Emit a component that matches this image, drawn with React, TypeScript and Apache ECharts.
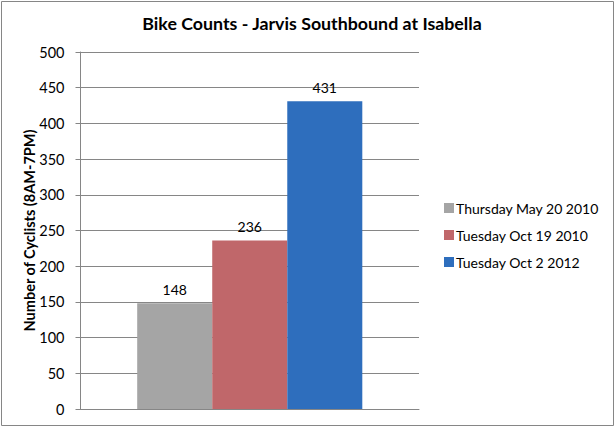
import React, { useEffect, useRef } from "react";
import * as echarts from "echarts";

const categories = [""];
const seriesNames = ["Thursday May 20 2010", "Tuesday Oct 19 2010", "Tuesday Oct 2 2012"];
const seriesValues = [148, 236, 431];
const seriesColors = ["#A5A5A5", "#C0676A", "#2E6EBD"];

export default function App() {
  const ref = useRef<HTMLDivElement>(null);
  useEffect(() => {
    document.body.style.margin = "0";
    const chart = echarts.init(ref.current!, null, { renderer: "svg" });
    const font = "Lato, 'Open Sans', sans-serif";
    chart.setOption({
      animation: false,
      backgroundColor: "#fff",
      textStyle: { fontFamily: font },
      title: {
        text: "Bike Counts - Jarvis Southbound at Isabella",
        left: 307,
        textAlign: "center",
        top: 9,
        textStyle: { fontSize: 17.8, fontWeight: "bold", color: "#000", fontFamily: font },
      },
      graphic: [
        {
          type: "rect",
          shape: { x: 1.5, y: 1.5, width: 612, height: 424 },
          style: { fill: "none", stroke: "#868686", lineWidth: 1 },
          silent: true,
        },
      ],
      legend: {
        orient: "vertical",
        left: 439,
        top: 196,
        itemWidth: 10,
        itemHeight: 10,
        itemGap: 13,
        icon: "rect",
        textStyle: { fontSize: 14, color: "#000", fontFamily: font, padding: [0, 0, 0, -3] },
        data: seriesNames,
      },
      grid: { left: 80.5, right: 197, top: 52, bottom: 19, containLabel: false },
      xAxis: {
        type: "category",
        data: categories,
        axisLine: { show: true, lineStyle: { color: "#868686" } },
        axisTick: { show: false },
        axisLabel: { show: false },
      },
      yAxis: {
        type: "value",
        min: 0,
        max: 500,
        interval: 50,
        name: "Number of Cyclists (8AM-7PM)",
        nameLocation: "middle",
        nameGap: 44,
        nameMoveOverlap: false,
        nameTextStyle: { fontSize: 14.5, fontWeight: "bold", color: "#000", fontFamily: font },
        axisLine: { show: true, lineStyle: { color: "#868686" } },
        axisTick: { show: true, length: 5, lineStyle: { color: "#868686" } },
        axisLabel: { fontSize: 14.5, color: "#000", margin: 16, fontFamily: font },
        splitLine: { show: true, lineStyle: { color: "#868686" } },
      },
      series: seriesNames.map((name, i) => ({
        type: "bar",
        name,
        data: [seriesValues[i]],
        itemStyle: { color: seriesColors[i] },
        barGap: "0%",
        barCategoryGap: "33.5%",
        label: {
          show: true,
          position: "top",
          distance: 7,
          fontSize: 14,
          color: "#000",
          fontFamily: font,
        },
      })),
    });
    return () => chart.dispose();
  }, []);
  return <div ref={ref} style={{ width: 616, height: 428 }} />;
}
